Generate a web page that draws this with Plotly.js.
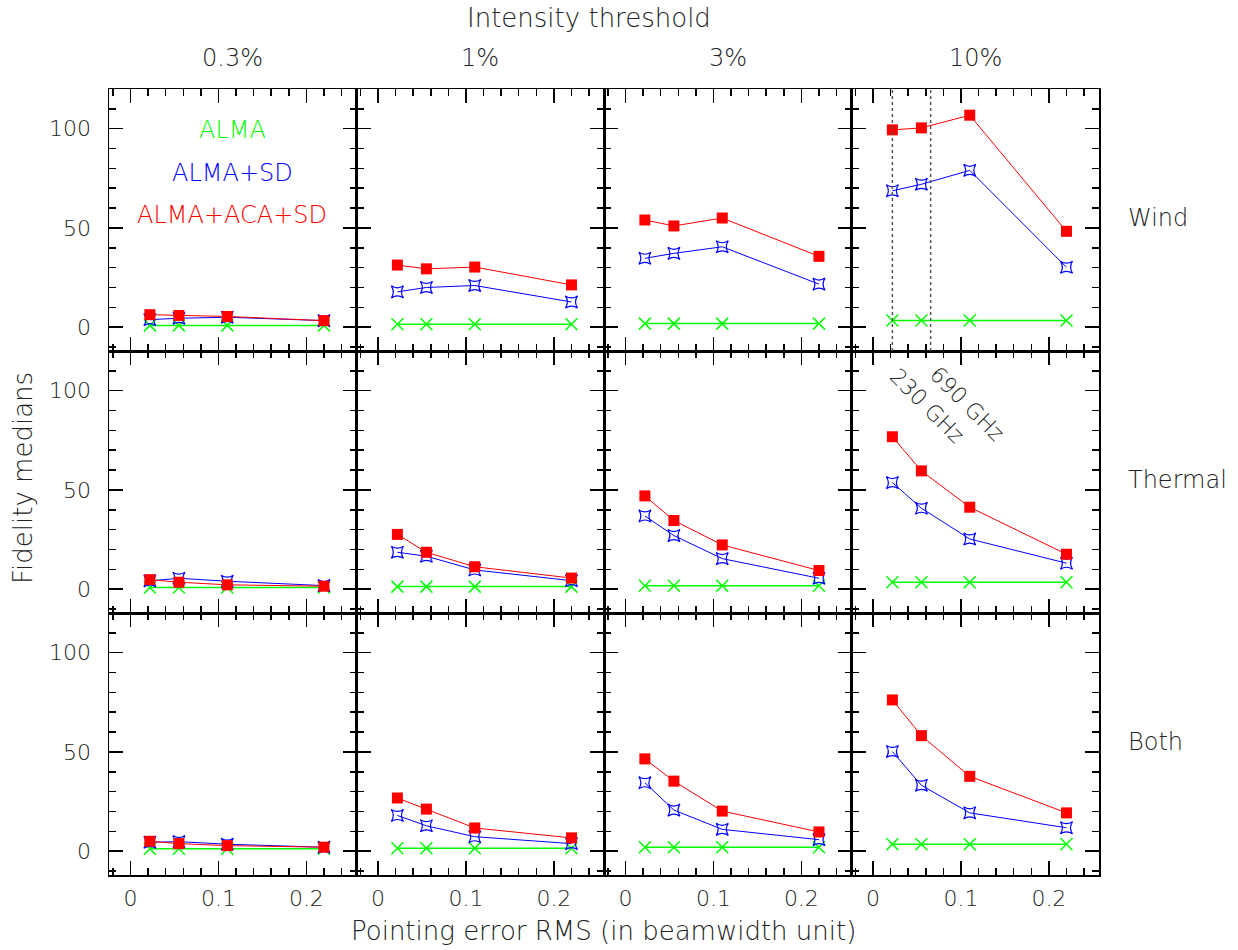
<!DOCTYPE html>
<html>
<head>
<meta charset="utf-8">
<script src="https://cdn.plot.ly/plotly-3.0.1.min.js"></script>
<style>
html,body{margin:0;padding:0;background:#fff;}
#chart{width:1238px;height:950px;}
</style>
</head>
<body>
<div id="chart"></div>
<script>
// ---------- data ----------
const pointingErr = [0.022, 0.055, 0.11, 0.22];
const thresholds = ['0.3%', '1%', '3%', '10%'];
const variations = ['Wind', 'Thermal', 'Both'];
const seriesNames = ['ALMA', 'ALMA+SD', 'ALMA+ACA+SD'];

// one inner array per intensity threshold (0.3%, 1%, 3%, 10%)
const almaWind     = [[0.9, 0.9, 0.9, 0.9], [1.5, 1.5, 1.5, 1.5], [1.8, 1.8, 1.8, 1.8], [3.4, 3.4, 3.4, 3.4]];
const almaSdWind   = [[3.8, 4.5, 5.0, 3.3], [17.8, 20.0, 21.0, 12.7], [34.7, 37.2, 40.5, 21.7], [68.7, 72.0, 79.0, 30.2]];
const almaAcaWind  = [[6.3, 5.9, 5.4, 3.3], [31.3, 29.4, 30.3, 21.3], [54.0, 51.0, 55.0, 35.7], [99.4, 100.4, 106.8, 48.3]];

const almaThermal    = [[0.8, 0.8, 0.8, 0.8], [1.3, 1.3, 1.3, 1.3], [1.7, 1.7, 1.7, 1.7], [3.5, 3.5, 3.5, 3.5]];
const almaSdThermal  = [[4.2, 5.5, 4.0, 1.8], [18.6, 16.6, 9.7, 4.3], [36.9, 27.0, 15.4, 5.5], [53.7, 40.8, 25.3, 13.1]];
const almaAcaThermal = [[4.8, 3.5, 2.2, 1.5], [27.6, 18.6, 11.3, 5.6], [47.0, 34.6, 22.3, 9.4], [76.8, 59.6, 41.3, 17.6]];

const almaBoth    = [[1.2, 1.2, 1.2, 1.2], [1.5, 1.5, 1.5, 1.5], [2.0, 2.0, 2.0, 2.0], [3.5, 3.5, 3.5, 3.5]];
const almaSdBoth  = [[4.5, 4.8, 3.5, 2.0], [18.0, 12.8, 7.3, 3.8], [34.5, 20.7, 11.0, 5.8], [50.2, 33.2, 19.3, 11.8]];
const almaAcaBoth = [[5.0, 3.8, 2.8, 2.0], [26.8, 21.2, 11.7, 6.7], [46.5, 35.3, 20.2, 9.7], [76.2, 58.2, 37.7, 19.3]];

const freqLines = [0.022, 0.0655];
const freqLabels = ['230 GHz', '690 GHz'];

// ---------- layout helpers ----------
const W = 1238, H = 950;
const colEdges = [109, 356.5, 604, 851.5, 1099];
const rowEdges = [89, 351, 613, 875];
const xRange = [-0.0245, 0.257];
const yRange = [-12, 120];

const FONT = 'DejaVu Sans, Liberation Sans, sans-serif';
const TXT = '#222';
const fontBase = {family: FONT, size: 24, color: TXT, weight: 300};
const fontTitle = {family: FONT, size: 26, color: TXT, weight: 300};
const fontTick = {family: FONT, size: 22, color: TXT, weight: 300};

const rowData = [
  [almaWind, almaSdWind, almaAcaWind],
  [almaThermal, almaSdThermal, almaAcaThermal],
  [almaBoth, almaSdBoth, almaAcaBoth]
];
const colors = ['#00ff00', '#0000ff', '#ff0000'];
const symbols = ['x-thin-open', 'star-square-open', 'square'];
const sizes = [12, 11, 11];

const traces = [];
const layout = {
  width: W, height: H,
  margin: {l: 0, r: 0, t: 0, b: 0},
  paper_bgcolor: '#fff', plot_bgcolor: '#fff',
  showlegend: false,
  font: fontBase,
  annotations: [],
  shapes: []
};

function ann(o) {
  return Object.assign({showarrow: false, xanchor: 'center', yanchor: 'middle'}, o);
}

for (let r = 0; r < 3; r++) {
  for (let c = 0; c < 4; c++) {
    const k = r * 4 + c + 1;
    const xa = k === 1 ? 'xaxis' : 'xaxis' + k;
    const ya = k === 1 ? 'yaxis' : 'yaxis' + k;
    const xref = k === 1 ? 'x' : 'x' + k;
    const yref = k === 1 ? 'y' : 'y' + k;
    for (let s = 0; s < 3; s++) {
      traces.push({
        type: 'scatter', mode: 'lines+markers',
        name: seriesNames[s],
        x: pointingErr, y: rowData[r][s][c],
        xaxis: xref, yaxis: yref,
        line: {color: colors[s], width: s === 0 ? 1.5 : 1},
        marker: {symbol: symbols[s], size: sizes[s], color: colors[s],
                 line: {color: colors[s], width: s === 2 ? 0 : (s === 0 ? 1.5 : 1.2)}},
        cliponaxis: false
      });
    }
    const axCommon = {
      showline: true, linecolor: '#000', linewidth: 1.5, mirror: 'ticks',
      ticks: 'inside', ticklen: 14, tickwidth: 1.5, tickcolor: '#000',
      showgrid: false, zeroline: false, fixedrange: true,
      tickfont: fontTick
    };
    layout[xa] = Object.assign({}, axCommon, {
      domain: [colEdges[c] / W, colEdges[c + 1] / W],
      range: xRange, anchor: yref,
      tickmode: 'array', tickvals: [0, 0.1, 0.2], ticktext: ['0', '0.1', '0.2'],
      showticklabels: r === 2, ticklabelstandoff: 3,
      minor: {dtick: 0.02, tick0: 0, ticks: 'inside', ticklen: 7, tickwidth: 1.5, tickcolor: '#000', showgrid: false}
    });
    layout[ya] = Object.assign({}, axCommon, {
      domain: [1 - rowEdges[r + 1] / H, 1 - rowEdges[r] / H],
      range: yRange, anchor: xref,
      tickmode: 'array', tickvals: [0, 50, 100], ticktext: ['0', '50', '100'],
      showticklabels: c === 0, ticklabelstandoff: 12,
      minor: {dtick: 10, tick0: 0, ticks: 'inside', ticklen: 7, tickwidth: 1.5, tickcolor: '#000', showgrid: false}
    });

    if (r === 0 && c === 3) {
      freqLines.forEach(fx => {
        layout.shapes.push({type: 'line', xref: xref, yref: yref + ' domain',
          x0: fx, x1: fx, y0: 0, y1: 1,
          line: {color: '#555', width: 1.5, dash: 'dot'}});
      });
    }
    if (r === 1 && c === 3) {
      layout.annotations.push(ann({xref: xref, yref: yref, x: 0.061, y: 92.5, text: freqLabels[0],
        textangle: 45, font: Object.assign({}, fontBase, {size: 22})}));
      layout.annotations.push(ann({xref: xref, yref: yref, x: 0.1065, y: 93.5, text: freqLabels[1],
        textangle: 45, font: Object.assign({}, fontBase, {size: 22})}));
    }
    if (r === 0 && c === 0) {
      const ly = [99.3, 77.7, 56.5];
      for (let s = 0; s < 3; s++) {
        layout.annotations.push(ann({xref: xref, yref: yref, x: 0.1156, y: ly[s], text: seriesNames[s],
          font: Object.assign({}, fontBase, {color: colors[s]})}));
      }
    }
  }
}

// column titles
thresholds.forEach((t, c) => {
  layout.annotations.push(ann({xref: 'paper', yref: 'paper',
    x: (colEdges[c] + colEdges[c + 1]) / 2 / W, y: 1 - 58 / H,
    text: t, font: fontBase}));
});
// row labels
variations.forEach((v, r) => {
  layout.annotations.push(ann({xref: 'paper', yref: 'paper', xanchor: 'left',
    x: 1126 / W, y: 1 - ((rowEdges[r] + rowEdges[r + 1]) / 2 - 2) / H,
    text: v, font: fontBase}));
});
layout.annotations.push(ann({xref: 'paper', yref: 'paper', x: 589 / W, y: 1 - 18 / H,
  text: 'Intensity threshold', font: fontTitle}));
layout.annotations.push(ann({xref: 'paper', yref: 'paper', x: 603 / W, y: 1 - 931 / H,
  text: 'Pointing error RMS (in beamwidth unit)', font: fontTitle}));
layout.annotations.push(ann({xref: 'paper', yref: 'paper', x: 23 / W, y: 1 - 478 / H,
  text: 'Fidelity medians', textangle: -90, font: fontTitle}));

Plotly.newPlot('chart', traces, layout, {displayModeBar: false, staticPlot: true});
</script>
</body>
</html>
